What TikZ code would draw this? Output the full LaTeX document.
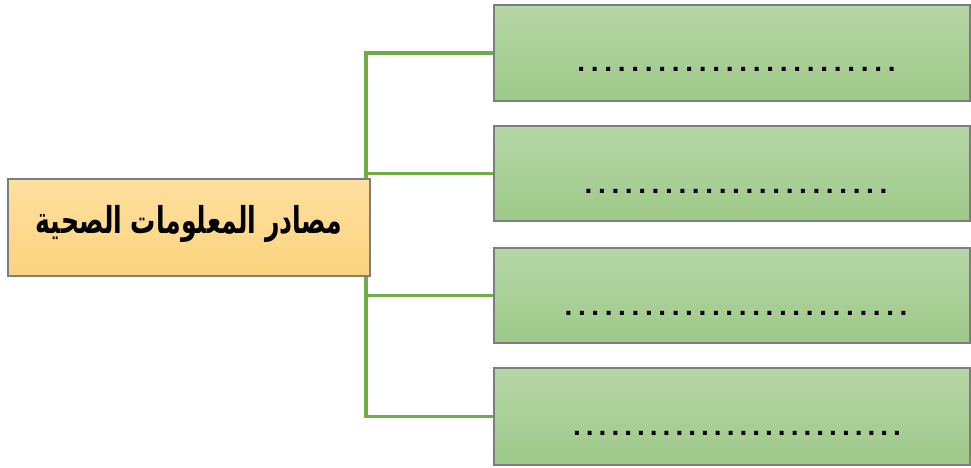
\documentclass[tikz,border=0pt]{standalone}
\usepackage{fontspec}
\setmainfont{Liberation Sans}
\newfontfamily\arabicfont[Script=Arabic]{DejaVu Sans}
\TeXXeTstate=1
\pgfdeclarelayer{bg}
\pgfsetlayers{bg,main}
\definecolor{gtop}{RGB}{182,214,166}
\definecolor{gbot}{RGB}{158,201,137}
\definecolor{otop}{RGB}{254,223,160}
\definecolor{obot}{RGB}{252,212,125}
\definecolor{lnk}{RGB}{112,173,71}
\definecolor{edge}{RGB}{125,125,125}
\newcommand\dotline[2]{\foreach \i in {1,...,#1}{\makebox[#2]{.}}}
\tikzset{
  greenbox/.style={rectangle, draw=edge, line width=1.6pt, top color=gtop, bottom color=gbot, minimum width=476pt, inner sep=0pt},
  titlebox/.style={rectangle, draw=edge, line width=1.6pt, top color=otop, bottom color=obot, minimum width=362pt, minimum height=97pt, inner sep=0pt},
  link/.style={draw=lnk, line width=3.2pt},
  dots/.style={font=\bfseries\fontsize{28}{28}\selectfont, inner sep=0pt, anchor=base},
}
\begin{document}
\begin{tikzpicture}[x=1pt,y=-1pt]
\useasboundingbox (0,0) rectangle (971,468);
\node[titlebox] (src) at (189,227.5) {};
\node[font=\arabicfont\bfseries\fontsize{37}{37}\selectfont, inner sep=0pt] (srct) at (189,224) {\scalebox{0.68}[1]{\beginR مصادر المعلومات الصحية\endR}};
\node[greenbox, minimum height=96pt] (b1) at (732,53) {};
\node[greenbox, minimum height=95pt] (b2) at (732,173.5) {};
\node[greenbox, minimum height=95pt] (b3) at (732,295.5) {};
\node[greenbox, minimum height=97pt] (b4) at (732,416.5) {};
\node[dots] (d1) at (736.5,72) {\dotline{24}{13.5pt}};
\node[dots] (d2) at (736,193) {\dotline{23}{13.4pt}};
\node[dots] (d3) at (736,315) {\dotline{26}{13.4pt}};
\node[dots] (d4) at (737,435) {\dotline{26}{12.8pt}};
\coordinate (jt) at (366,53);
\coordinate (jb) at (366,416.5);
\begin{pgfonlayer}{bg}
\draw[link] (b1.west) -- (jt) -- (jb) -- (b4.west);
\draw[link] (jt |- b2.west) -- (b2.west);
\draw[link] (jt |- b3.west) -- (b3.west);
\end{pgfonlayer}
\end{tikzpicture}
\end{document}
